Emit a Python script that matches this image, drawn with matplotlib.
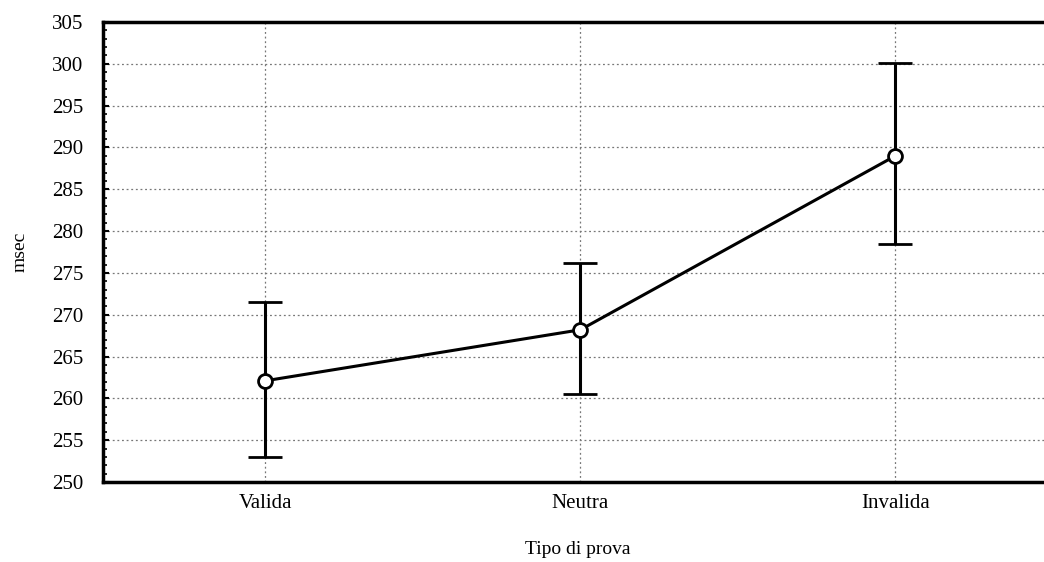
import matplotlib.pyplot as plt
from matplotlib.ticker import MultipleLocator

categorie = ["Valida", "Neutra", "Invalida"]
medie = [262.1, 268.2, 289.0]
err_sup = [271.5, 276.2, 300.1]
err_inf = [253.0, 260.5, 278.4]

plt.rcParams['font.family'] = ['Liberation Serif', 'DejaVu Serif']

fig = plt.figure(figsize=(10.44, 5.62), dpi=100)
ax = fig.add_axes([103/1044, 80/562, 950/1044, 460/562])

x = list(range(len(categorie)))
yerr = [[m - lo for m, lo in zip(medie, err_inf)],
        [hi - m for m, hi in zip(medie, err_sup)]]

ax.errorbar(x, medie, yerr=yerr, color="black", lw=2.2, capsize=12.5, capthick=3,
            marker="o", ms=10, mfc="white", mec="black", mew=2, zorder=3)

ax.set_xlim(-0.515, 2.5)
ax.set_ylim(250, 305)
ax.set_xticks(x)
ax.set_xticklabels(categorie, fontsize=15)
ax.yaxis.set_major_locator(MultipleLocator(5))
ax.yaxis.set_minor_locator(MultipleLocator(1))
ax.tick_params(axis="y", labelsize=15, direction="in", length=4, width=1.5, pad=14)
ax.tick_params(axis="y", which="minor", direction="in", length=3, width=1.2)
ax.tick_params(axis="x", length=0, pad=9)

ax.grid(True, which="major", color="#777777", linestyle=(0, (1.5, 2.2)), lw=0.9)

for s in ax.spines.values():
    s.set_linewidth(2.5)

ax.set_ylabel("msec", fontsize=14, labelpad=17)
ax.set_xlabel("Tipo di prova", fontsize=14, labelpad=20)

plt.savefig("out.png", dpi=100)
